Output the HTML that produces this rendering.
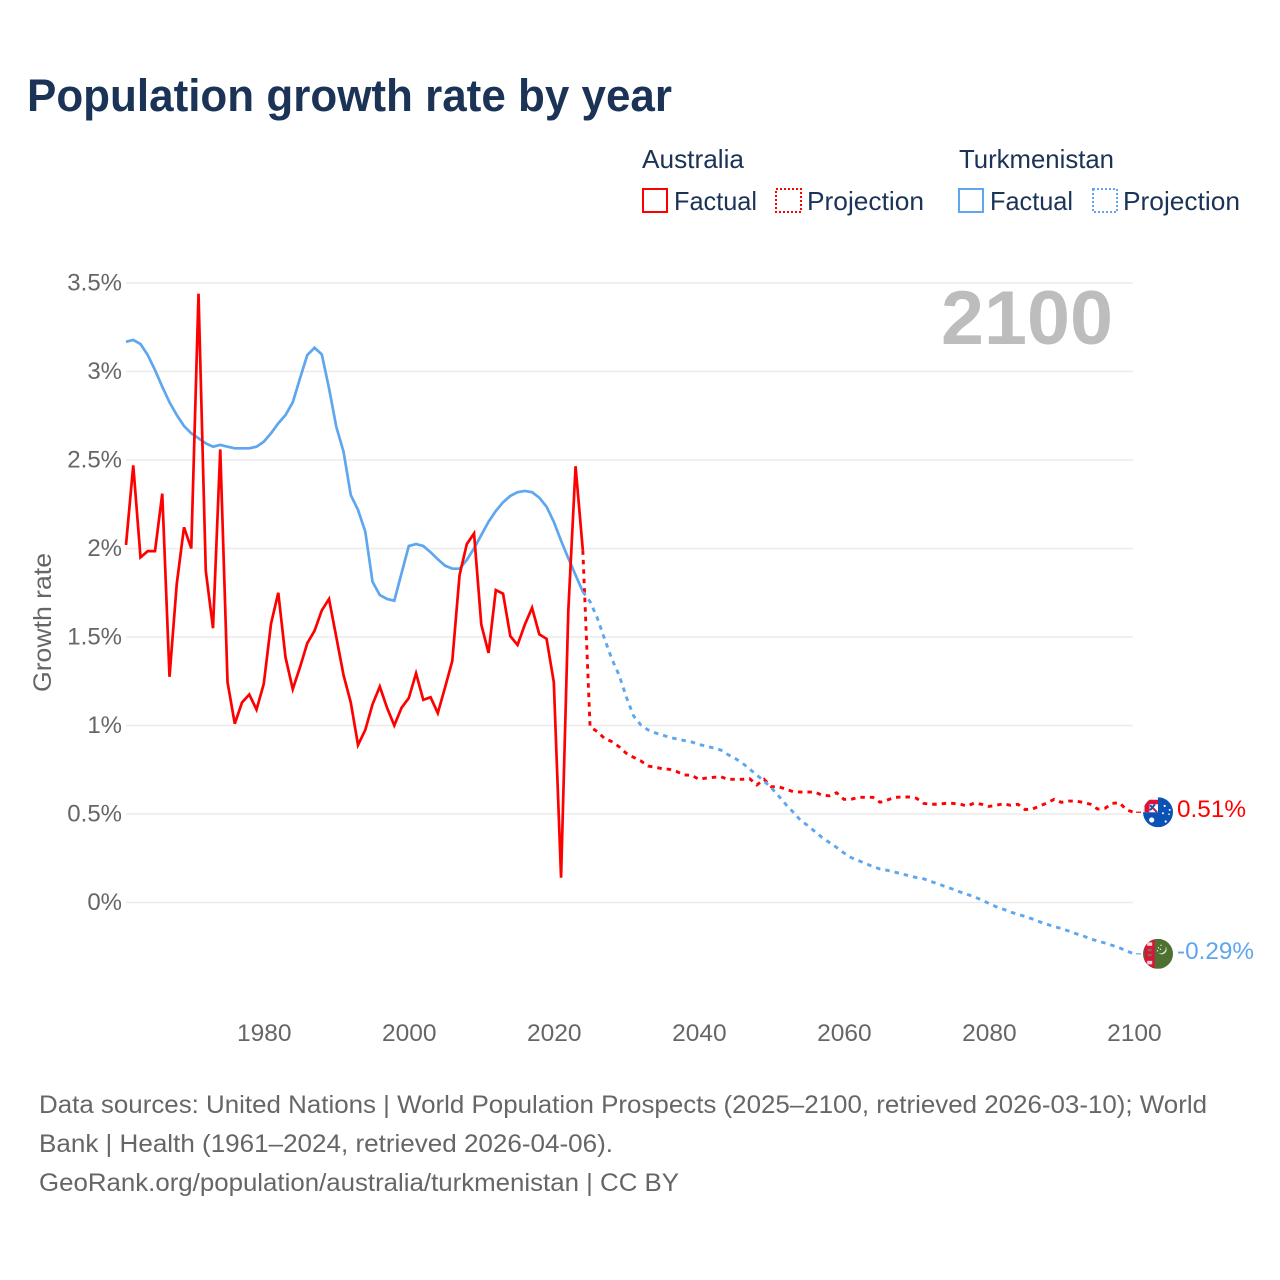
<!DOCTYPE html>
<html lang="en">
<head>
<meta charset="utf-8">
<title>Population growth rate by year</title>
<style>
html,body{margin:0;padding:0;background:#fff;width:1280px;height:1280px;overflow:hidden}
svg{display:block;font-family:"Liberation Sans",sans-serif}
</style>
</head>
<body>
<svg id="chart" xmlns="http://www.w3.org/2000/svg" width="1280" height="1280" viewBox="0 0 1280 1280">
  <rect width="1280" height="1280" fill="#fff"/>
  <text x="27" y="111" font-size="45" font-weight="700" fill="#1a3356" textLength="645" lengthAdjust="spacingAndGlyphs">Population growth rate by year</text>

  <g font-size="26" fill="#1a3356">
    <text x="642" y="168" textLength="102" lengthAdjust="spacingAndGlyphs">Australia</text>
    <text x="959" y="168" textLength="155" lengthAdjust="spacingAndGlyphs">Turkmenistan</text>
    <g>
      <rect x="643" y="189" width="24" height="23" fill="none" stroke="#ff0000" stroke-width="2"/>
      <text x="674" y="210" textLength="83" lengthAdjust="spacingAndGlyphs">Factual</text>
    </g>
    <g>
      <rect x="776" y="189" width="25" height="23" fill="none" stroke="#ff0000" stroke-width="2" stroke-dasharray="2 2"/>
      <text x="807" y="210" textLength="117" lengthAdjust="spacingAndGlyphs">Projection</text>
    </g>
    <g>
      <rect x="959" y="189" width="24" height="23" fill="none" stroke="#5ea6ee" stroke-width="2"/>
      <text x="990" y="210" textLength="83" lengthAdjust="spacingAndGlyphs">Factual</text>
    </g>
    <g>
      <rect x="1093" y="189" width="24" height="23" fill="none" stroke="#5ea6ee" stroke-width="2" stroke-dasharray="2 2"/>
      <text x="1123" y="210" textLength="117" lengthAdjust="spacingAndGlyphs">Projection</text>
    </g>
  </g>

  <g id="grid"></g>
  <g id="yticks"></g>
  <g id="xticks"></g>

  <text transform="translate(51,692) rotate(-90)" font-size="25" fill="#666" textLength="139" lengthAdjust="spacingAndGlyphs">Growth rate</text>
  <text x="941" y="344" font-size="76" font-weight="700" fill="#bdbdbd" textLength="172" lengthAdjust="spacingAndGlyphs">2100</text>

  <g id="series"></g>

  <defs>
    <clipPath id="flag-clip"><circle cx="0" cy="0" r="15"/></clipPath>
  </defs>

  <g id="flag-au">
    <g clip-path="url(#flag-clip)">
      <rect x="-15" y="-15" width="30" height="30" fill="#0a52b5"/>
      <rect x="-15" y="-15" width="15" height="15" fill="#ffffff"/>
      <path d="M-13.5 0 V-9.5 A3 3 0 0 1 -10.5 -12.5 H0 V0 Z" fill="#e0123a"/>
      <rect x="-8.5" y="-8" width="8.5" height="8" fill="#fff"/>
      <path d="M-8 -7 L-1 0 M-8 -2 L-3 -8" stroke="#1f4fa8" stroke-width="2"/>
      <path d="M-5 -4 L-1 0" stroke="#e0123a" stroke-width="1.3"/>
      <circle cx="-6.3" cy="7.7" r="2.6" fill="#fff"/>
      <circle cx="6.7" cy="-6.3" r="1.1" fill="#fff"/>
      <circle cx="11.7" cy="-2.3" r="1" fill="#fff"/>
      <circle cx="5" cy="1" r="1" fill="#fff"/>
      <circle cx="11" cy="2" r="0.8" fill="#fff"/>
      <circle cx="7.7" cy="9.3" r="1.1" fill="#fff"/>
    </g>
  </g>

  <g id="flag-tm">
    <g clip-path="url(#flag-clip)">
      <rect x="-15" y="-15" width="30" height="30" fill="#4e7030"/>
      <rect x="-13.3" y="-15" width="10" height="30" fill="#d8143a"/>
      <rect x="-10.8" y="-11.5" width="5" height="3.5" fill="#f3d3d3"/>
      <rect x="-10.3" y="-5" width="4" height="2.4" fill="#8d6a4a"/>
      <rect x="-10.3" y="0" width="4" height="2.4" fill="#8d6a4a"/>
      <rect x="-10.8" y="7" width="5" height="3.5" fill="#f3d3d3"/>
      <path d="M7.5 -7.6 A5 5 0 0 1 0.2 -0.8 A5.5 5.5 0 0 0 7.5 -7.6 Z" fill="#e8efe0"/>
      <circle cx="0.5" cy="-6" r="0.7" fill="#e8efe0"/>
      <circle cx="3" cy="-8.5" r="0.7" fill="#e8efe0"/>
      <circle cx="-0.5" cy="-3" r="0.7" fill="#e8efe0"/>
      <circle cx="2.5" cy="-4.5" r="0.7" fill="#e8efe0"/>
    </g>
  </g>

  <g font-size="25" fill="#666">
    <text x="39" y="1113" textLength="1168" lengthAdjust="spacingAndGlyphs">Data sources: United Nations | World Population Prospects (2025–2100, retrieved 2026-03-10); World</text>
    <text x="39" y="1152" textLength="574" lengthAdjust="spacingAndGlyphs">Bank | Health (1961–2024, retrieved 2026-04-06).</text>
    <text x="39" y="1191" textLength="640" lengthAdjust="spacingAndGlyphs">GeoRank.org/population/australia/turkmenistan | CC BY</text>
  </g>
</svg>

<script>
const factualStartYear = 1961;
const projectionStartYear = 2024;
const xTickYears = [1980, 2000, 2020, 2040, 2060, 2080, 2100];
const yTickValues = [0, 0.5, 1, 1.5, 2, 2.5, 3, 3.5];
const yTickLabels = ["0%", "0.5%", "1%", "1.5%", "2%", "2.5%", "3%", "3.5%"];

const australiaFactual = [
  2.02, 2.47, 1.95, 1.985, 1.985, 2.31, 1.275, 1.80, 2.12, 2.00,
  3.44, 1.875, 1.55, 2.56, 1.245, 1.01, 1.13, 1.175, 1.09, 1.235,
  1.575, 1.75, 1.385, 1.205, 1.33, 1.465, 1.535, 1.65, 1.715, 1.50,
  1.285, 1.13, 0.89, 0.975, 1.12, 1.22, 1.10, 1.00, 1.10, 1.155,
  1.295, 1.145, 1.16, 1.07, 1.215, 1.365, 1.85, 2.025, 2.085, 1.57,
  1.41, 1.765, 1.745, 1.505, 1.455, 1.57, 1.665, 1.515, 1.49, 1.245,
  0.14, 1.65, 2.465, 1.99
];
const australiaProjection = [
  1.99, 0.993, 0.965, 0.927, 0.909, 0.880, 0.843, 0.82, 0.80, 0.771,
  0.764, 0.756, 0.752, 0.739, 0.72, 0.72, 0.696, 0.703, 0.707, 0.711,
  0.696, 0.696, 0.696, 0.70, 0.664, 0.696, 0.654, 0.654, 0.641, 0.626,
  0.624, 0.624, 0.624, 0.606, 0.603, 0.62, 0.583, 0.583, 0.594, 0.594,
  0.594, 0.566, 0.579, 0.594, 0.596, 0.596, 0.589, 0.56, 0.555, 0.555,
  0.56, 0.56, 0.556, 0.545, 0.562, 0.555, 0.543, 0.549, 0.558, 0.549,
  0.555, 0.525, 0.528, 0.545, 0.562, 0.583, 0.566, 0.573, 0.573, 0.566,
  0.555, 0.528, 0.532, 0.56, 0.564, 0.523, 0.51
];
const turkmenistanFactual = [
  3.168, 3.178, 3.155, 3.093, 3.008, 2.914, 2.826, 2.754, 2.692, 2.651,
  2.623, 2.594, 2.575, 2.585, 2.575, 2.566, 2.566, 2.566, 2.575, 2.603,
  2.651, 2.707, 2.754, 2.826, 2.962, 3.093, 3.134, 3.097, 2.905, 2.688,
  2.547, 2.302, 2.218, 2.095, 1.812, 1.737, 1.715, 1.705, 1.860, 2.014,
  2.025, 2.014, 1.979, 1.939, 1.903, 1.886, 1.886, 1.935, 2.001, 2.076,
  2.151, 2.212, 2.261, 2.297, 2.318, 2.325, 2.318, 2.287, 2.236, 2.151,
  2.044, 1.945, 1.850, 1.756
];
const turkmenistanProjection = [
  1.756, 1.70, 1.607, 1.489, 1.376, 1.285, 1.161, 1.054, 1.003, 0.975,
  0.958, 0.946, 0.932, 0.924, 0.915, 0.907, 0.893, 0.884, 0.873, 0.862,
  0.836, 0.814, 0.788, 0.754, 0.720, 0.686, 0.647, 0.602, 0.554, 0.511,
  0.466, 0.435, 0.401, 0.367, 0.339, 0.311, 0.280, 0.254, 0.237, 0.220,
  0.203, 0.189, 0.182, 0.172, 0.161, 0.151, 0.141, 0.134, 0.119, 0.105,
  0.090, 0.076, 0.060, 0.046, 0.032, 0.014, -0.005, -0.024, -0.038, -0.054,
  -0.067, -0.079, -0.093, -0.109, -0.123, -0.136, -0.147, -0.161, -0.176, -0.189,
  -0.205, -0.218, -0.229, -0.242, -0.256, -0.274, -0.29
];

const NS = "http://www.w3.org/2000/svg";
const RED = "#ff0000";
const BLUE = "#5ea6ee";
const GREY = "#666666";

function xScale(year) { return 126 + (year - 1961) * (1133.9 - 126) / 139; }
function yScale(value) { return 902.5 - value * 177; }

function make(tag, parent, attrs, text) {
  const el = document.createElementNS(NS, tag);
  for (const k in attrs) el.setAttribute(k, attrs[k]);
  if (text !== undefined) el.textContent = text;
  parent.appendChild(el);
  return el;
}
function pathFor(values, startYear) {
  return values.map(function (v, i) {
    return (i ? "L" : "M") + xScale(startYear + i).toFixed(2) + " " + yScale(v).toFixed(2);
  }).join(" ");
}
function formatPct(v) { return v.toFixed(2) + "%"; }

const gridGroup = document.getElementById("grid");
const yTickGroup = document.getElementById("yticks");
const xTickGroup = document.getElementById("xticks");
const seriesGroup = document.getElementById("series");

yTickValues.forEach(function (v, i) {
  const line = make("line", gridGroup, { x1: 126, x2: 1133, y1: yScale(v), y2: yScale(v), stroke: "#ebebeb", "stroke-width": 1.6 });
  
  
  const label = make("text", yTickGroup, { x: 122, y: yScale(v) + 7.5, "text-anchor": "end", "font-size": 24, fill: GREY }, yTickLabels[i]);
  
  
});

xTickYears.forEach(function (year) {
  const label = make("text", xTickGroup, { x: xScale(year) + 0.5, y: 1041, "text-anchor": "middle", "font-size": 24.5, fill: GREY }, String(year));
  
  
});

const turFactualLine = make("path", seriesGroup, { d: pathFor(turkmenistanFactual, factualStartYear), fill: "none", stroke: BLUE, "stroke-width": 2.7, "stroke-linejoin": "miter" });



const ausFactualLine = make("path", seriesGroup, { d: pathFor(australiaFactual, factualStartYear), fill: "none", stroke: RED, "stroke-width": 2.7, "stroke-linejoin": "miter" });



const ausProjectionLine = make("path", seriesGroup, { d: pathFor(australiaProjection, projectionStartYear), fill: "none", stroke: RED, "stroke-width": 2.9, "stroke-dasharray": "4.5 5" });



const turProjectionLine = make("path", seriesGroup, { d: pathFor(turkmenistanProjection, projectionStartYear), fill: "none", stroke: BLUE, "stroke-width": 2.9, "stroke-dasharray": "4.5 5" });



const ausEnd = australiaProjection[australiaProjection.length - 1];
const turEnd = turkmenistanProjection[turkmenistanProjection.length - 1];

const ausLeader = make("line", seriesGroup, { x1: 1136, x2: 1141, y1: yScale(ausEnd), y2: yScale(ausEnd), stroke: RED, "stroke-width": 1.2 });



const turLeader = make("line", seriesGroup, { x1: 1136, x2: 1141, y1: yScale(turEnd), y2: yScale(turEnd), stroke: BLUE, "stroke-width": 1.2 });



const ausEndLabel = make("text", seriesGroup, { x: 1177, y: yScale(ausEnd) + 5, "font-size": 24.5, fill: RED, textLength: 69, lengthAdjust: "spacingAndGlyphs" }, formatPct(ausEnd));



const turEndLabel = make("text", seriesGroup, { x: 1177, y: yScale(turEnd) + 5, "font-size": 24.5, fill: BLUE, textLength: 77, lengthAdjust: "spacingAndGlyphs" }, formatPct(turEnd));



document.getElementById("flag-au").setAttribute("transform", "translate(1158," + yScale(ausEnd) + ")");
document.getElementById("flag-tm").setAttribute("transform", "translate(1158," + yScale(turEnd) + ")");
</script>
</body>
</html>
